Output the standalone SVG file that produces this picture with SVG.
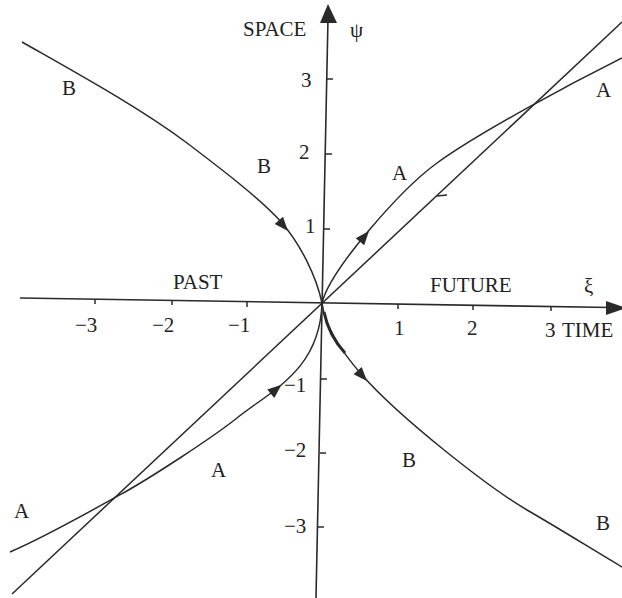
<svg xmlns="http://www.w3.org/2000/svg" width="622" height="598" viewBox="0 0 622 598">
<style>
.ax{stroke:#2a2a2a;stroke-width:1.6;fill:none}
.cv{stroke:#2a2a2a;stroke-width:1.5;fill:none}
.tk{stroke:#2a2a2a;stroke-width:1.5}
text{font-family:"Liberation Serif","Times New Roman",serif;font-size:21px;fill:#222}
.ah{fill:#2a2a2a}
</style>
<defs>
<path id="ah" d="M0,0 L-14,-5.5 L-14,5.5 Z"/>
</defs>
<rect width="622" height="598" fill="#ffffff"/>
<g id="axes">
<line class="ax" x1="20" y1="298" x2="612" y2="307.5"/>
<polygon class="ah" points="626,308 606,301 606,315"/>
<line class="ax" x1="316" y1="598" x2="328" y2="18"/>
<polygon class="ah" points="328,4 320,23 337,23"/>
<line class="tk" x1="95" y1="299" x2="95" y2="304"/>
<line class="tk" x1="172" y1="300" x2="172" y2="305"/>
<line class="tk" x1="247" y1="302" x2="247" y2="307"/>
<line class="tk" x1="398" y1="304" x2="398" y2="309"/>
<line class="tk" x1="473" y1="305" x2="473" y2="310"/>
<line class="tk" x1="551" y1="306" x2="551" y2="311"/>
<line class="tk" x1="327" y1="79" x2="333" y2="79"/>
<line class="tk" x1="326" y1="154" x2="332" y2="154"/>
<line class="tk" x1="324" y1="229" x2="330" y2="229"/>
<line class="tk" x1="321" y1="379" x2="327" y2="379"/>
<line class="tk" x1="320" y1="453" x2="326" y2="453"/>
<line class="tk" x1="318" y1="527" x2="324" y2="527"/>
</g>
<g id="labels">
<text x="243" y="36">SPACE</text>
<text x="350" y="37">ψ</text>
<text x="173" y="289">PAST</text>
<text x="430" y="292">FUTURE</text>
<text x="584" y="293">ξ</text>
<text x="562" y="337">TIME</text>
<text x="75" y="332">−3</text>
<text x="152" y="332">−2</text>
<text x="228" y="332">−1</text>
<text x="394" y="335">1</text>
<text x="467" y="335">2</text>
<text x="545" y="337">3</text>
<text x="301" y="87">3</text>
<text x="299" y="159">2</text>
<text x="305" y="233">1</text>
<text x="284" y="392">−1</text>
<text x="284" y="457">−2</text>
<text x="284" y="533">−3</text>
</g>
<g id="connectors">
<line class="cv" x1="12" y1="594" x2="622" y2="22"/>
<path class="cv" d="M322,303 C330,270 400,190 437,163 C480,132 570,84 622,58"/>
<path class="cv" d="M322,303 C320,370 272,390 237,418 C212,438 150,478 125,492 C100,506 45,537 10,552"/>
<path class="cv" d="M22,42 C80,75 140,108 187,143 C220,168 262,200 282,223 C300,244 316,275 322,303"/>
<path class="cv" d="M322,303 C325,325 340,350 362,375 C400,418 488,487 527,510 C560,529 590,548 622,567"/>
<path class="cv" style="stroke-width:3" d="M324,312 C327,327 333,340 345,353"/>
<line class="cv" x1="437" y1="196" x2="447" y2="195"/>
<use class="ah" href="#ah" transform="translate(288,231) rotate(49)"/>
<use class="ah" href="#ah" transform="translate(369,231) rotate(-50)"/>
<use class="ah" href="#ah" transform="translate(281.5,384.8) rotate(-40)"/>
<use class="ah" href="#ah" transform="translate(367,381) rotate(48)"/>
</g>
<g id="node-B1"><text x="62" y="95">B</text></g>
<g id="node-B2"><text x="257" y="173">B</text></g>
<g id="node-A1"><text x="392" y="180">A</text></g>
<g id="node-A2"><text x="596" y="97">A</text></g>
<g id="node-A3"><text x="14" y="518">A</text></g>
<g id="node-A4"><text x="211" y="477">A</text></g>
<g id="node-B3"><text x="402" y="467">B</text></g>
<g id="node-B4"><text x="596" y="530">B</text></g>
</svg>
